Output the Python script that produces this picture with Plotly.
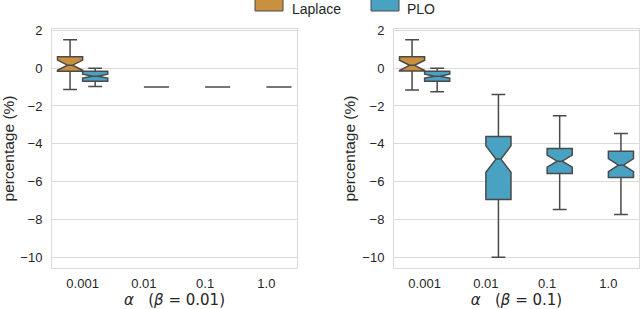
import plotly.graph_objects as go

categories = ["0.001", "0.01", "0.1", "1.0"]
series_names = ["Laplace", "PLO"]

# Left panel (beta = 0.01)
left_laplace_x = ["0.001"]
left_laplace_low = [-1.13]
left_laplace_q1 = [-0.16]
left_laplace_med = [0.16]
left_laplace_q3 = [0.60]
left_laplace_high = [1.50]
left_laplace_notch = [0.27]

left_plo_x = ["0.001", "0.01", "0.1", "1.0"]
left_plo_low = [-0.97, -1.0, -1.0, -1.0]
left_plo_q1 = [-0.69, -1.0, -1.0, -1.0]
left_plo_med = [-0.42, -1.0, -1.0, -1.0]
left_plo_q3 = [-0.16, -1.0, -1.0, -1.0]
left_plo_high = [0.0, -1.0, -1.0, -1.0]
left_plo_notch = [0.10, 0.0, 0.0, 0.0]

# Right panel (beta = 0.1)
right_laplace_x = ["0.001"]
right_laplace_low = [-1.15]
right_laplace_q1 = [-0.15]
right_laplace_med = [0.15]
right_laplace_q3 = [0.60]
right_laplace_high = [1.50]
right_laplace_notch = [0.27]

right_plo_x = ["0.001", "0.01", "0.1", "1.0"]
right_plo_low = [-1.25, -10.0, -7.48, -7.74]
right_plo_q1 = [-0.69, -6.95, -5.57, -5.78]
right_plo_med = [-0.42, -4.81, -4.92, -5.13]
right_plo_q3 = [-0.16, -3.61, -4.25, -4.39]
right_plo_high = [0.0, -1.39, -2.52, -3.46]
right_plo_notch = [0.10, 0.70, 0.32, 0.35]

y_ticks = [-10, -8, -6, -4, -2, 0, 2]

LAPLACE_COLOR = "#C9903F"
PLO_COLOR = "#4AA2C3"
EDGE = "#4a4a4a"
COLORS = {"Laplace": LAPLACE_COLOR, "PLO": PLO_COLOR}

fig = go.Figure()

def add_box(name, x, low, q1, med, q3, high, notch, xa, ya):
    fig.add_trace(go.Box(
        name=name, x=x, lowerfence=low, q1=q1, median=med, q3=q3,
        upperfence=high, notched=True, notchspan=notch, notchwidth=0.4,
        fillcolor=COLORS[name], line=dict(color=EDGE, width=1.5),
        whiskerwidth=0.55, boxpoints=False, xaxis=xa, yaxis=ya,
        legendgroup=name, showlegend=False, offsetgroup=name,
        hoverinfo="skip",
    ))

add_box("Laplace", left_laplace_x, left_laplace_low, left_laplace_q1,
        left_laplace_med, left_laplace_q3, left_laplace_high, left_laplace_notch, "x", "y")
add_box("PLO", left_plo_x, left_plo_low, left_plo_q1,
        left_plo_med, left_plo_q3, left_plo_high, left_plo_notch, "x", "y")
add_box("Laplace", right_laplace_x, right_laplace_low, right_laplace_q1,
        right_laplace_med, right_laplace_q3, right_laplace_high, right_laplace_notch, "x2", "y2")
add_box("PLO", right_plo_x, right_plo_low, right_plo_q1,
        right_plo_med, right_plo_q3, right_plo_high, right_plo_notch, "x2", "y2")

GRID = "#dadada"
SANS = "Liberation Sans, Arial, sans-serif"
tickfont = dict(family=SANS, size=13, color="#262626")
titlefont = dict(family=SANS, size=15.5, color="#262626")
mathfont = dict(family="DejaVu Sans, sans-serif", size=15, color="#262626")

xcommon = dict(type="category", categoryorder="array", categoryarray=categories,
               range=[-0.5, 3.5], showgrid=False, showline=True, mirror=True,
               linecolor=GRID, linewidth=1, ticks="", tickfont=tickfont,
               zeroline=False, ticklabelstandoff=3)
ycommon = dict(range=[-10.575, 2.075], tickvals=y_ticks,
               showgrid=True, gridcolor=GRID, gridwidth=1, zeroline=False,
               showline=True, mirror=True, linecolor=GRID, linewidth=1,
               ticks="", tickfont=tickfont, ticklabelstandoff=6)

W, H = 640, 309
ml, mr, mt, mb = 52, 1, 29, 41
pw = W - ml - mr
ph = H - mt - mb
d1 = (297 - ml) / pw
d2 = (394 - ml) / pw

def px(x):
    return (x - ml) / pw

def py(y):
    return (H - mb - y) / ph

fig.update_layout(
    width=W, height=H,
    margin=dict(l=ml, r=mr, t=mt, b=mb, autoexpand=False),
    paper_bgcolor="white", plot_bgcolor="white",
    boxmode="group", boxgap=0.18, boxgroupgap=0.0,
    showlegend=False,
    xaxis=dict(domain=[0, d1], anchor="y",
               title=dict(text="<i>α</i>   (<i>β</i> = 0.01)", font=mathfont, standoff=3),
               **xcommon),
    xaxis2=dict(domain=[d2, 1], anchor="y2",
                title=dict(text="<i>α</i>   (<i>β</i> = 0.1)", font=mathfont, standoff=3),
                **xcommon),
    yaxis=dict(domain=[0, 1], anchor="x",
               title=dict(text="percentage (%)", font=titlefont, standoff=2), **ycommon),
    yaxis2=dict(domain=[0, 1], anchor="x2",
                title=dict(text="percentage (%)", font=titlefont, standoff=2), **ycommon),
)

# Legend drawn as swatches + labels at the top
legend_swatch_x = [255, 371]
legend_text_x = [291, 406]
for name, sx, tx in zip(series_names, legend_swatch_x, legend_text_x):
    fig.add_shape(type="rect", xref="paper", yref="paper",
                  x0=px(sx), x1=px(sx + 28), y0=py(11), y1=py(-3),
                  fillcolor=COLORS[name], line=dict(color=EDGE, width=1))
    fig.add_annotation(text=name, xref="paper", yref="paper",
                       x=px(tx), y=py(0), xanchor="left", yanchor="top",
                       borderpad=0, showarrow=False,
                       font=dict(family=SANS, size=14, color="#262626"))

fig.write_html("out.html", config={"displayModeBar": False},
               post_script="document.body.style.margin='0';document.body.style.overflow='hidden';")
